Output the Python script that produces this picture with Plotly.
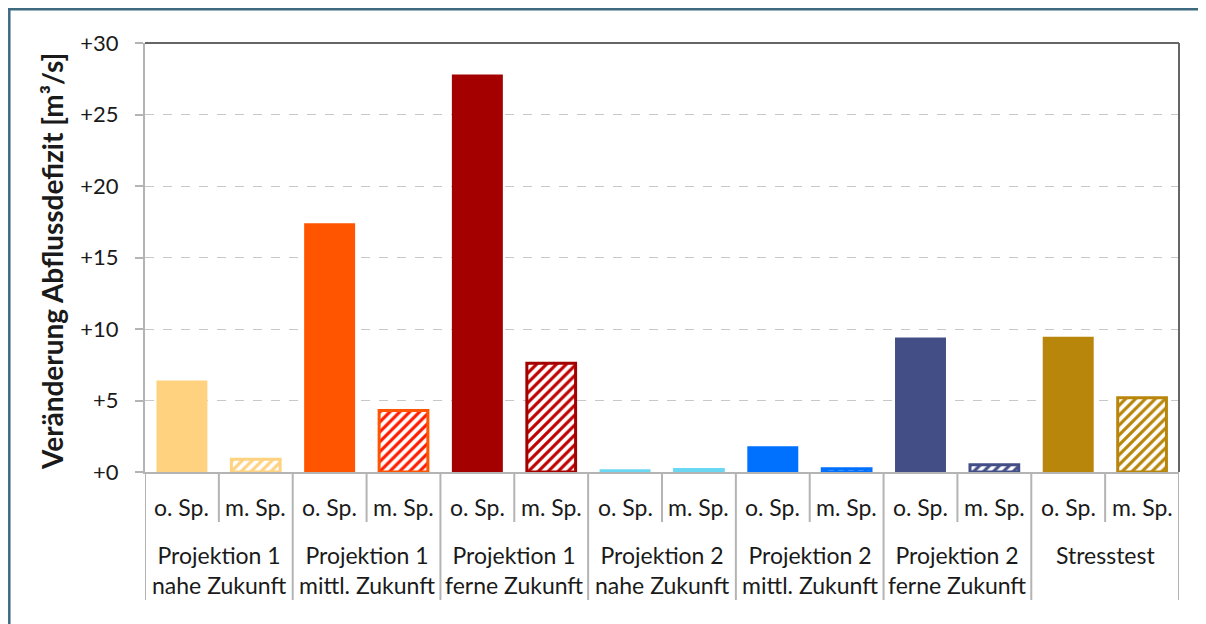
import plotly.graph_objects as go

# Projections / scenarios and sub-categories (ohne / mit Speicher)
groups = ["Projektion 1<br>nahe Zukunft", "Projektion 1<br>mittl. Zukunft",
          "Projektion 1<br>ferne Zukunft", "Projektion 2<br>nahe Zukunft",
          "Projektion 2<br>mittl. Zukunft", "Projektion 2<br>ferne Zukunft",
          "Stresstest"]
subs = ["o. Sp.", "m. Sp."]

o_sp = [6.4, 17.4, 27.8, 0.2, 1.8, 9.4, 9.45]
m_sp = [0.9, 4.3, 7.6, 0.18, 0.22, 0.5, 5.2]

colors = ["#FFD280", "#FF5500", "#A50000", "#6AD8F3", "#0070FF", "#434E87", "#B8860B"]
hatch_colors = ["#FFD280", "#FF1A00", "#C00000", "#6AD8F3", "#0060E0", "#434E87", "#B8860B"]

y_ticks = [0, 5, 10, 15, 20, 25, 30]
y_labels = ["+0", "+5", "+10", "+15", "+20", "+25", "+30"]

n = len(groups)
x_o = [2 * i for i in range(n)]
x_m = [2 * i + 1 for i in range(n)]

fig = go.Figure()
fig.add_trace(go.Bar(x=x_o, y=o_sp, width=0.69,
                     marker=dict(color=colors, line=dict(width=0)),
                     hoverinfo="y"))
fig.add_trace(go.Bar(x=x_m, y=m_sp, width=0.66,
                     marker=dict(color="white",
                                 line=dict(color=colors, width=3),
                                 pattern=dict(shape="/", fgcolor=hatch_colors,
                                              fillmode="overlay", fgopacity=1,
                                              size=7, solidity=0.45)),
                     hoverinfo="y"))

# the page body adds an 8px offset; positions below are given in page pixels
W, H = 1206, 624
OFF = 8
L, R, T, B = 145 - OFF, W - (1179 - OFF), 43 - OFF, H - (472 - OFF)
pw, ph = W - L - R, H - T - B


def px_x(p):
    return (p - OFF - L) / pw


def px_y(p):
    return (H - B - (p - OFF)) / ph


font = "Lato, 'Open Sans', sans-serif"
txt = "#1A1A1A"
grey = "#B4B4B4"

annotations = []
shapes = []
for i, g in enumerate(groups):
    for j, s in enumerate(subs):
        annotations.append(dict(x=2 * i + j, y=px_y(507), xref="x", yref="paper",
                                text=s, showarrow=False, yanchor="middle",
                                xanchor="center", font=dict(size=23, color=txt)))
    annotations.append(dict(x=2 * i + 0.5, y=px_y(539), xref="x", yref="paper",
                            text=g, showarrow=False, yanchor="top",
                            xanchor="center", font=dict(size=23, color=txt)))
    shapes.append(dict(type="line", xref="x", yref="paper",
                       x0=2 * i + 0.5, x1=2 * i + 0.5, y0=0, y1=px_y(522),
                       line=dict(color=grey, width=2)))
for k in range(n + 1):
    shapes.append(dict(type="line", xref="x", yref="paper",
                       x0=2 * k - 0.5, x1=2 * k - 0.5, y0=0, y1=px_y(600),
                       line=dict(color=grey, width=2)))

annotations.append(dict(x=px_x(52), y=px_y(262), xref="paper", yref="paper",
                        text="<b>Veränderung Abflussdefizit [m³/s]</b>",
                        textangle=-90, showarrow=False,
                        xanchor="center", yanchor="middle",
                        font=dict(size=28, color=txt)))

# plot-area frame (top and right) and outer figure border
shapes += [
    dict(type="line", xref="paper", yref="paper", x0=0, x1=1, y0=1, y1=1,
         line=dict(color="#333", width=1.5)),
    dict(type="line", xref="paper", yref="paper", x0=1, x1=1, y0=0, y1=1,
         line=dict(color="#666", width=2)),
    dict(type="line", xref="paper", yref="paper", x0=px_x(9.3), x1=px_x(9.3),
         y0=px_y(700), y1=px_y(8), line=dict(color="#3E6A80", width=2.5)),
    dict(type="line", xref="paper", yref="paper", x0=px_x(8), x1=px_x(1300),
         y0=px_y(9.3), y1=px_y(9.3), line=dict(color="#3E6A80", width=2.5)),
]

fig.update_layout(
    width=W, height=H,
    paper_bgcolor="white", plot_bgcolor="white",
    margin=dict(l=L, r=R, t=T, b=B, autoexpand=False),
    barmode="overlay", showlegend=False,
    font=dict(family=font, size=21, color=txt),
    annotations=annotations, shapes=shapes,
)
fig.update_yaxes(
    range=[0, 30], tickvals=y_ticks, ticktext=y_labels,
    tickfont=dict(size=22, color=txt), showgrid=True, gridcolor="#C8C8C8",
    griddash="dash", gridwidth=1, showline=True, linecolor=grey, linewidth=2,
    ticks="outside", ticklen=8, tickcolor=grey, tickwidth=1.5,
    ticklabelstandoff=12, zeroline=False, automargin=False,
)
fig.update_xaxes(
    range=[-0.5, 2 * n - 0.5], showticklabels=False, showgrid=False,
    showline=True, linecolor=grey, linewidth=2, zeroline=False,
    automargin=False,
)

fig.write_html("out.html")
